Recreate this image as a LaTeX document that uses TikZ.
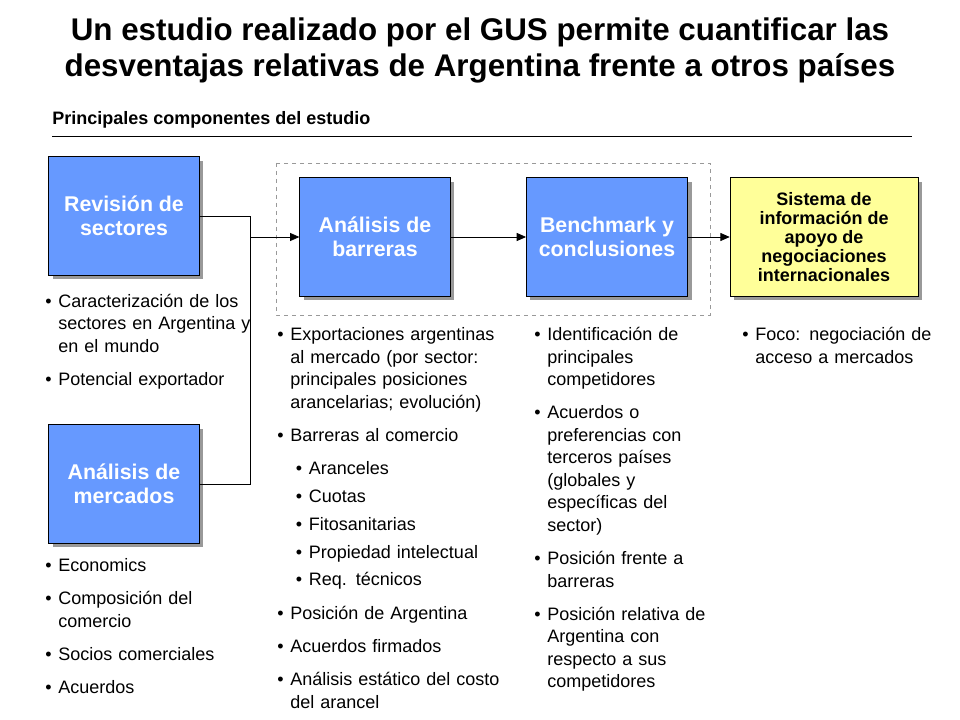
\documentclass[tikz,border=0pt]{standalone}
\usepackage{fontspec}
\setmainfont{Liberation Sans}
\usetikzlibrary{arrows.meta,positioning,shadows}
\definecolor{boxblue}{HTML}{6699FF}
\definecolor{boxyellow}{HTML}{FFFF99}
\newcommand{\blist}[1]{%
  \setlength{\leftmargini}{16.5pt}\setlength{\leftmarginii}{14pt}%
  \setlength{\topsep}{0pt}\setlength{\partopsep}{0pt}\setlength{\parsep}{0pt}%
  \setlength{\itemsep}{4pt}\renewcommand{\labelitemii}{\textbullet}%
  \begin{itemize}\raggedright#1\end{itemize}}
\tikzset
{
    stepbox/.style = {rectangle, draw=black, fill=boxblue, text=white, font=\fontsize{16}{18}\selectfont\bfseries, align=center, minimum width=113pt, minimum height=89pt, drop shadow={shadow xshift=3pt, shadow yshift=-3pt, fill=black!40, opacity=1}},
    infobox/.style  = {stepbox, fill=boxyellow, text=black, font=\fontsize{13.5}{14.3}\selectfont\bfseries, minimum width=141pt},
    bullets/.style  = {anchor=north west, inner sep=0pt, font=\fontsize{13.5}{16.9}\selectfont, align=left}
}
\begin{document}
\begin{tikzpicture}[x=0.75pt, y=-0.75pt]
\useasboundingbox (0,0) rectangle (960,720);
% title
\node (title) [font=\fontsize{23.5}{27}\selectfont\bfseries, align=center] at (480,50) {Un estudio realizado por el GUS permite cuantificar las\\desventajas relativas de Argentina frente a otros países};
\node (sub) [anchor=west, font=\fontsize{13.5}{14}\selectfont\bfseries, inner sep=0pt] at (52,120) {Principales componentes del estudio};
\draw[line width=0.5pt] (52,136) -- (912,136);
% dashed frame
\draw[dashed, black!40, line width=0.4pt] (276,163) rectangle (710,315);
% boxes
\node (rev)  [stepbox] at (124,216) {Revisión de\\sectores};
\node (merc) [stepbox] at (124,484) {Análisis de\\mercados};
\node (barr) [stepbox] at (375,237) {Análisis de\\barreras};
\node (bench)[stepbox, minimum width=121pt] at (607,237) {Benchmark y\\conclusiones};
\node (sis)  [infobox] at (824,237) {Sistema de\\información de\\apoyo de\\negociaciones\\internacionales};
\coordinate (join) at (250,237);
% connectors
\draw[line width=0.6pt] (rev.east) -| (250,484) -- (merc.east);
\draw[-{Triangle[length=7pt,width=6pt]}, line width=0.6pt] (join) -- (barr.west);
\draw[-{Triangle[length=7pt,width=6pt]}, line width=0.6pt] (barr) -- (bench);
\draw[-{Triangle[length=7pt,width=6pt]}, line width=0.6pt] (bench) -- (sis);
% bullet texts
\node (t1) [bullets, text width=165pt] at (36,274) {\blist{\item Caracterización de los sectores en Argentina y en el mundo \item Potencial exportador}};
\node (t2) [bullets, text width=165pt] at (36,538) {\blist{\item Economics \item Composición del comercio \item Socios comerciales \item Acuerdos}};
\node (t3) [bullets, text width=183pt] at (268,307) {\blist{\item Exportaciones argentinas al mercado (por sector: principales posiciones arancelarias; evolución) \item Barreras al comercio \begin{itemize}\raggedright\item Aranceles \item Cuotas \item Fitosanitarias \item Propiedad intelectual \item Req. técnicos\end{itemize} \item Posición de Argentina \item Acuerdos firmados \item Análisis estático del costo del arancel}};
\node (t4) [bullets, text width=143pt] at (525,307) {\blist{\item Identificación de principales competidores \item Acuerdos o preferencias con terceros países (globales y específicas del sector) \item Posición frente a barreras \item Posición relativa de Argentina con respecto a sus competidores}};
\node (t5) [bullets, text width=154pt] at (733,307) {\blist{\item Foco: negociación de acceso a mercados}};
\end{tikzpicture}
\end{document}
